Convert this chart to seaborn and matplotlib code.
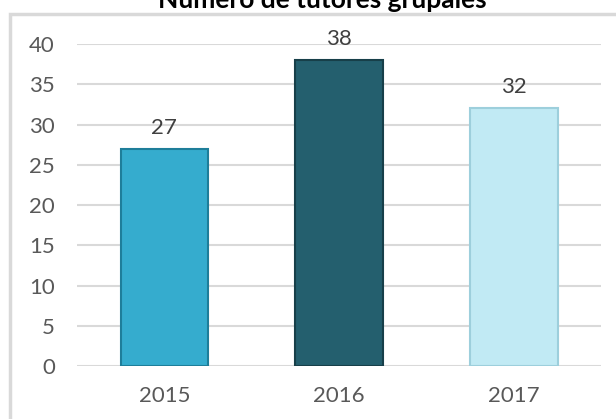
import pandas as pd
import seaborn as sns
import matplotlib.pyplot as plt
from matplotlib.patches import Rectangle

# Chart data
years = ['2015', '2016', '2017']
tutores = [27, 38, 32]
bar_colors = ['#35ACCE', '#245F6E', '#C1EAF4']
edge_colors = ['#1E7E9A', '#173F49', '#9DCFDC']

df = pd.DataFrame({'year': years, 'tutores': tutores})

sns.set_style('white')
plt.rcParams['font.family'] = ['Lato', 'DejaVu Sans']

fig = plt.figure(figsize=(6.16, 4.19), dpi=100)
ax = fig.add_axes([0.125, 0.126, 0.851, 0.769])

sns.barplot(data=df, x='year', y='tutores', hue='year', palette=bar_colors,
            saturation=1, width=0.5, legend=False, ax=ax, zorder=3)

for bar, ec in zip(ax.patches, edge_colors):
    bar.set_edgecolor(ec)
    bar.set_linewidth(1.5)

for c in ax.containers:
    ax.bar_label(c, padding=8, fontsize=16, color='#404040', clip_on=False)

ax.set_ylim(0, 40)
ax.set_yticks(range(0, 41, 5))
ax.yaxis.grid(True, color='#D9D9D9', linewidth=1.5, zorder=0)
ax.set_axisbelow(True)
sns.despine(ax=ax, left=True, bottom=True, top=True, right=True)
ax.set_xlabel('')
ax.set_ylabel('')
ax.tick_params(axis='both', length=0, labelsize=16, labelcolor='#595959')
ax.tick_params(axis='y', pad=16)
ax.tick_params(axis='x', pad=14)

# chart frame
fig.patches.append(Rectangle((10 / 616, -0.05), 1.0, 1 - 14 / 419 + 0.05,
                             transform=fig.transFigure, fill=False,
                             edgecolor='#D9D9D9', linewidth=2.5))

fig.text(322 / 616, 1 - 8 / 419, 'Número de tutores grupales', ha='center',
         va='baseline', fontsize=19, fontweight='bold', color='black')

fig.savefig('out.png', dpi=100)
